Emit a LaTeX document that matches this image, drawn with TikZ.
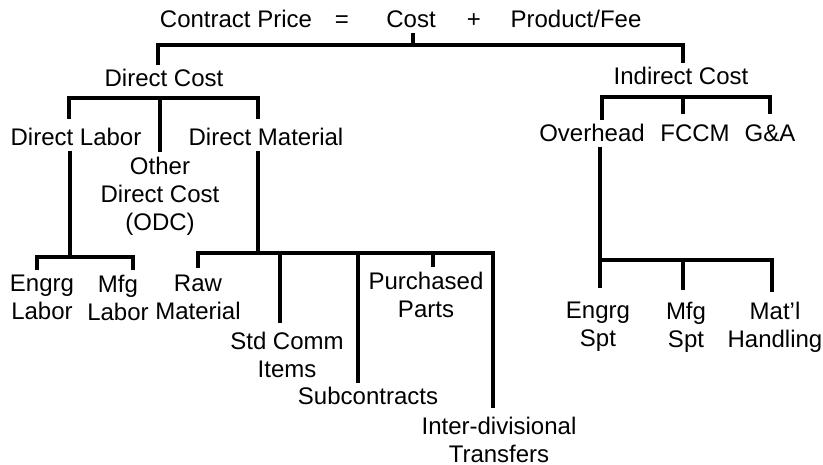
\documentclass[tikz,border=0pt]{standalone}
\usepackage{fontspec}
\setmainfont{Liberation Sans}
\usepackage{tikz}
\usetikzlibrary{positioning}

\begin{document}
\begin{tikzpicture}[x=1pt, y=-1pt,
    lbl/.style={inner sep=0pt, outer sep=5pt, align=center, font=\fontsize{24}{28}\selectfont},
    tree/.style={draw, line width=3.5pt}]
        \useasboundingbox (0,0) rectangle (823,465);

        % top line
        \node[lbl, anchor=base] (cprice) at (236,28) {Contract Price};
        \node[lbl, anchor=base] (eq) at (342,28) {=};
        \node[lbl, anchor=base] (cost) at (411,28) {Cost};
        \node[lbl, anchor=base] (plus) at (474,28) {+};
        \node[lbl, anchor=base] (pfee) at (576,28) {Product/Fee};

        \node[lbl, anchor=base] (dcost) at (164,87) {Direct Cost};
        \node[lbl, anchor=base] (icost) at (681,85) {Indirect Cost};

        % direct cost
        \node[lbl, anchor=base] (dlab) at (76,146) {Direct Labor};
        \node[lbl, anchor=base] (dmat) at (266,146) {Direct Material};
        \node[lbl, anchor=north] (odc) at (160,152) {Other\\Direct Cost\\(ODC)};

        \node[lbl, anchor=north] (englab) at (42,270) {Engrg\\Labor};
        \node[lbl, anchor=north] (mfglab) at (118,270) {Mfg\\Labor};
        \node[lbl, anchor=north] (rawmat) at (198,270) {Raw\\Material};
        \node[lbl, anchor=north] (stdcomm) at (287,327) {Std Comm\\Items};
        \node[lbl, anchor=base] (subc) at (368,405) {Subcontracts};
        \node[lbl, anchor=north] (purch) at (426,267) {Purchased\\Parts};
        \node[lbl, anchor=north] (interdiv) at (499,412) {Inter-divisional\\Transfers};

        % indirect cost
        \node[lbl, anchor=base] (ovh) at (592,142) {Overhead};
        \node[lbl, anchor=base] (fccm) at (695,142) {FCCM};
        \node[lbl, anchor=base] (gna) at (770,142) {G\&A};

        \node[lbl, anchor=north] (engspt) at (598,297) {Engrg\\Spt};
        \node[lbl, anchor=north] (mfgspt) at (686,297) {Mfg\\Spt};
        \node[lbl, anchor=north] (matl) at (775,297) {Mat'l\\Handling};

        \coordinate (topbar) at (0,45);
        \coordinate (dcbar) at (0,98);
        \coordinate (dlbar) at (0,257);
        \coordinate (dmbar) at (0,253);
        \coordinate (icbar) at (0,97);
        \coordinate (ohbar) at (0,260);

        \path[tree]
        ([xshift=2pt]cost.south) -- ([xshift=2pt]cost.south |- topbar)
        ([xshift=-6pt]dcost.north) |- ([xshift=2pt]icost.north |- topbar) -- ([xshift=2pt]icost.north)
        % direct cost
        ([xshift=-7pt,yshift=5pt]dlab.north) |- ([xshift=-8pt]dmat.north |- dcbar) -- ([xshift=-8pt,yshift=5pt]dmat.north)
        (odc.north) -- (odc.north |- dcbar)
        ([xshift=-6pt]dlab.south) -- ([xshift=-6pt]dlab.south |- dlbar)
        ([xshift=-5pt]englab.north) |- ([xshift=15pt]mfglab.north |- dlbar) -- ([xshift=15pt]mfglab.north)
        ([xshift=-8pt]dmat.south) -- ([xshift=-8pt]dmat.south |- dmbar)
        ([yshift=2pt]rawmat.north) |- ([xshift=-6pt]interdiv.north |- dmbar) -- ([xshift=-6pt,yshift=4pt]interdiv.north)
        ([xshift=-7pt,yshift=4pt]stdcomm.north) -- ([xshift=-7pt]stdcomm.north |- dmbar)
        ([xshift=-10pt]subc.north) -- ([xshift=-10pt]subc.north |- dmbar)
        ([xshift=7pt]purch.north) -- ([xshift=7pt]purch.north |- dmbar)
        % indirect cost
        ([xshift=10pt]ovh.north) |- (gna.north |- icbar) -- ([yshift=6pt]gna.north)
        ([xshift=-12pt,yshift=6pt]fccm.north) -- ([xshift=-12pt]fccm.north |- icbar)
        ([xshift=8pt]ovh.south) -- ([xshift=2pt,yshift=9pt]engspt.north)
        ([xshift=2pt]engspt.north |- ohbar) -| ([xshift=-3pt,yshift=5pt]matl.north)
        ([xshift=-3pt,yshift=7pt]mfgspt.north) -- ([xshift=-3pt]mfgspt.north |- ohbar);

\end{tikzpicture}
\end{document}
